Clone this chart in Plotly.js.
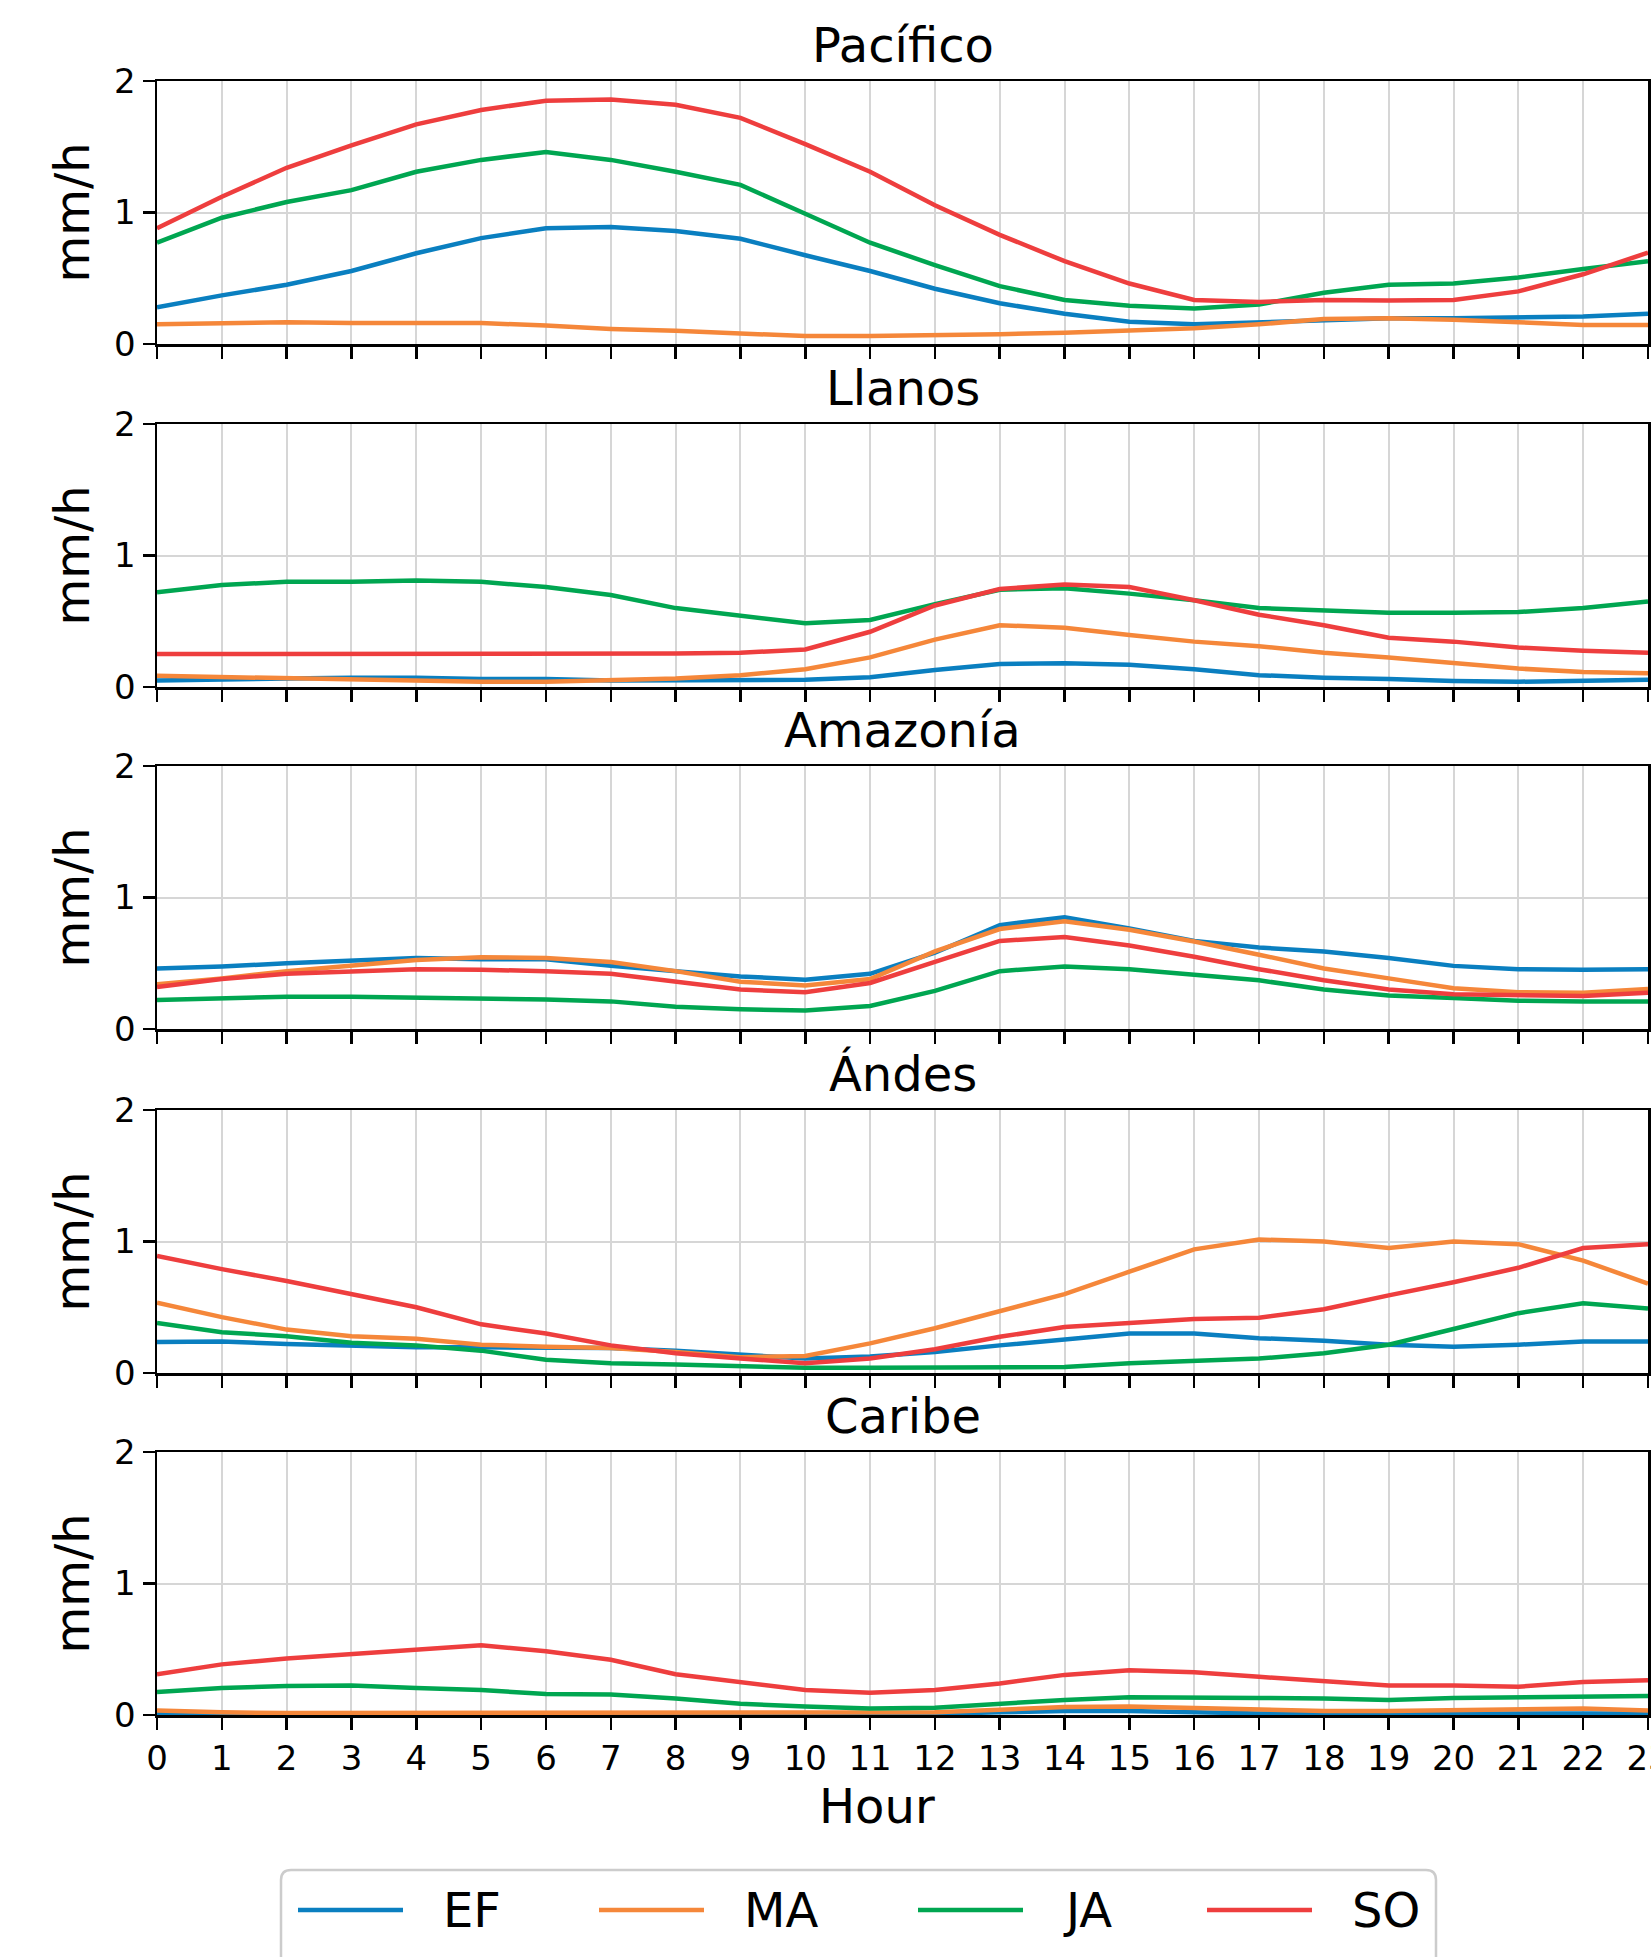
<!DOCTYPE html>
<html>
<head>
<meta charset="utf-8">
<script src="https://cdn.plot.ly/plotly-3.0.1.min.js"></script>
<style>html,body{margin:0;padding:0;background:#fff;}#chart{width:1651px;height:1957px;}</style>
</head>
<body>
<div id="chart"></div>
<script>
// ---- data ----
const hours = [0,1,2,3,4,5,6,7,8,9,10,11,12,13,14,15,16,17,18,19,20,21,22,23];
const regions = ["Pacífico","Llanos","Amazonía","Ándes","Caribe"];
const seasons = ["EF","MA","JA","SO"];
const yTicks = [0,1,2];

const pacificoEF = [0.28,0.37,0.45,0.555,0.69,0.805,0.88,0.89,0.86,0.80,0.675,0.555,0.42,0.31,0.23,0.17,0.15,0.165,0.185,0.195,0.195,0.20,0.21,0.23];
const pacificoMA = [0.15,0.155,0.165,0.16,0.16,0.16,0.14,0.115,0.10,0.08,0.06,0.06,0.065,0.075,0.085,0.10,0.12,0.15,0.19,0.195,0.185,0.165,0.145,0.145];
const pacificoJA = [0.77,0.96,1.08,1.17,1.31,1.40,1.46,1.40,1.31,1.21,0.99,0.77,0.60,0.44,0.335,0.29,0.27,0.30,0.39,0.45,0.46,0.505,0.57,0.63];
const pacificoSO = [0.88,1.12,1.34,1.51,1.67,1.78,1.85,1.86,1.82,1.72,1.52,1.31,1.055,0.83,0.63,0.46,0.335,0.32,0.335,0.33,0.335,0.40,0.53,0.695];

const llanosEF = [0.05,0.06,0.065,0.07,0.07,0.06,0.06,0.05,0.05,0.05,0.055,0.075,0.13,0.175,0.18,0.17,0.135,0.09,0.07,0.06,0.045,0.04,0.045,0.055];
const llanosMA = [0.085,0.075,0.065,0.055,0.045,0.04,0.04,0.05,0.065,0.09,0.135,0.225,0.36,0.47,0.45,0.395,0.345,0.31,0.26,0.225,0.185,0.14,0.115,0.105];
const llanosJA = [0.72,0.775,0.80,0.80,0.81,0.80,0.76,0.70,0.60,0.54,0.485,0.51,0.63,0.74,0.75,0.71,0.66,0.60,0.58,0.565,0.565,0.57,0.60,0.65];
const llanosSO = [0.25,0.25,0.25,0.25,0.25,0.25,0.25,0.25,0.255,0.26,0.285,0.42,0.62,0.745,0.78,0.76,0.66,0.55,0.47,0.375,0.345,0.30,0.275,0.26];

const amazoniaEF = [0.46,0.475,0.50,0.52,0.54,0.53,0.53,0.48,0.44,0.40,0.375,0.42,0.58,0.79,0.85,0.765,0.67,0.62,0.59,0.54,0.48,0.455,0.45,0.455];
const amazoniaMA = [0.34,0.385,0.44,0.48,0.525,0.545,0.54,0.51,0.44,0.36,0.33,0.38,0.59,0.76,0.82,0.755,0.665,0.565,0.46,0.385,0.31,0.28,0.275,0.305];
const amazoniaJA = [0.22,0.235,0.245,0.245,0.24,0.235,0.225,0.21,0.17,0.15,0.14,0.175,0.29,0.44,0.475,0.455,0.41,0.37,0.30,0.255,0.235,0.215,0.21,0.21];
const amazoniaSO = [0.32,0.38,0.42,0.44,0.455,0.45,0.44,0.42,0.36,0.30,0.28,0.35,0.51,0.67,0.70,0.635,0.55,0.455,0.37,0.30,0.265,0.255,0.25,0.275];

const andesEF = [0.235,0.24,0.22,0.21,0.195,0.195,0.195,0.19,0.17,0.14,0.11,0.125,0.16,0.21,0.255,0.30,0.30,0.265,0.245,0.215,0.20,0.215,0.24,0.24];
const andesMA = [0.535,0.425,0.33,0.28,0.26,0.215,0.20,0.19,0.16,0.12,0.13,0.225,0.34,0.47,0.60,0.77,0.94,1.015,1.00,0.95,1.00,0.98,0.855,0.68];
const andesJA = [0.38,0.31,0.28,0.23,0.21,0.17,0.10,0.075,0.065,0.05,0.04,0.04,0.04,0.04,0.045,0.075,0.09,0.11,0.15,0.215,0.335,0.455,0.53,0.49];
const andesSO = [0.89,0.79,0.70,0.60,0.50,0.37,0.30,0.21,0.15,0.11,0.075,0.11,0.18,0.275,0.35,0.38,0.41,0.42,0.485,0.59,0.69,0.80,0.95,0.98];

const caribeEF = [0.01,0.01,0.01,0.01,0.01,0.01,0.01,0.01,0.01,0.01,0.01,0.01,0.01,0.02,0.03,0.03,0.02,0.012,0.01,0.01,0.01,0.015,0.015,0.012];
const caribeMA = [0.035,0.02,0.015,0.015,0.015,0.015,0.015,0.015,0.015,0.015,0.015,0.015,0.02,0.04,0.06,0.065,0.055,0.04,0.03,0.03,0.035,0.045,0.05,0.035];
const caribeJA = [0.175,0.205,0.22,0.225,0.205,0.19,0.16,0.155,0.125,0.085,0.065,0.05,0.055,0.085,0.115,0.135,0.135,0.13,0.125,0.115,0.13,0.135,0.14,0.145];
const caribeSO = [0.31,0.385,0.43,0.465,0.495,0.53,0.485,0.42,0.31,0.25,0.19,0.17,0.19,0.24,0.305,0.34,0.325,0.29,0.26,0.225,0.225,0.215,0.25,0.265];

const regionSeries = [
  [pacificoEF, pacificoMA, pacificoJA, pacificoSO],
  [llanosEF, llanosMA, llanosJA, llanosSO],
  [amazoniaEF, amazoniaMA, amazoniaJA, amazoniaSO],
  [andesEF, andesMA, andesJA, andesSO],
  [caribeEF, caribeMA, caribeJA, caribeSO]
];

// ---- style ----
const colors = ["#0a7fc0","#f5873a","#00a651","#ee3e3e"];
const W = 1651, H = 1957;
const FONT = "DejaVu Sans, sans-serif";
const fx = p => p / W;
const fy = p => 1 - p / H;
const plotLeft = 157, plotRight = 1648;
const panelTops = [81, 424, 766, 1110, 1452];
const panelH = 263;

const traces = [];
regionSeries.forEach((series, r) => {
  series.forEach((vals, s) => {
    traces.push({
      x: hours, y: vals, type: "scatter", mode: "lines",
      name: seasons[s], showlegend: false,
      xaxis: r === 0 ? "x" : "x" + (r + 1),
      yaxis: r === 0 ? "y" : "y" + (r + 1),
      line: {color: colors[s], width: 4.5},
      hoverinfo: "skip"
    });
  });
});

const layout = {
  width: W, height: H,
  margin: {l: 0, r: 0, t: 0, b: 0},
  paper_bgcolor: "#fff", plot_bgcolor: "#fff",
  font: {family: FONT, color: "#000", size: 34},
  showlegend: false,
  annotations: [], shapes: []
};

regions.forEach((name, r) => {
  const xk = r === 0 ? "xaxis" : "xaxis" + (r + 1);
  const yk = r === 0 ? "yaxis" : "yaxis" + (r + 1);
  const top = panelTops[r], bot = top + panelH;
  layout[xk] = {
    domain: [fx(plotLeft), fx(plotRight)],
    anchor: r === 0 ? "y" : "y" + (r + 1),
    range: [0, 23], tickvals: hours, ticktext: hours.map(String),
    showticklabels: r === regions.length - 1,
    ticklabeloverflow: "allow",
    ticks: "outside", ticklen: 12, tickwidth: 2.5, tickcolor: "#000",
    showline: true, linecolor: "#000", linewidth: 2.5, mirror: true,
    showgrid: true, gridcolor: "#d6d6d6", gridwidth: 2, zeroline: false,
    tickfont: {size: 34, family: FONT, color: "#000"},
    fixedrange: true
  };
  layout[yk] = {
    domain: [fy(bot), fy(top)],
    anchor: r === 0 ? "x" : "x" + (r + 1),
    range: [0, 2], tickvals: yTicks, ticktext: yTicks.map(String),
    ticks: "outside", ticklen: 12, tickwidth: 2.5, tickcolor: "#000",
    showline: true, linecolor: "#000", linewidth: 2.5, mirror: true,
    showgrid: true, gridcolor: "#d6d6d6", gridwidth: 2, zeroline: false,
    tickfont: {size: 34, family: FONT, color: "#000"},
    fixedrange: true
  };
  layout.annotations.push({
    text: name, xref: "paper", yref: "paper",
    x: fx((plotLeft + plotRight) / 2), y: fy(top - 36),
    xanchor: "center", yanchor: "middle", showarrow: false,
    font: {size: 48, family: FONT, color: "#000"}
  });
  layout.annotations.push({
    text: "mm/h", xref: "paper", yref: "paper",
    x: fx(71), y: fy(top + panelH / 2), textangle: -90,
    xanchor: "center", yanchor: "middle", showarrow: false,
    font: {size: 48, family: FONT, color: "#000"}
  });
});

layout.annotations.push({
  text: "Hour", xref: "paper", yref: "paper",
  x: fx(877), y: fy(1806), xanchor: "center", yanchor: "middle",
  showarrow: false, font: {size: 48, family: FONT, color: "#000"}
});

// ---- custom legend ----
const lgL = 281, lgR = 1436, lgT = 1870, lgB = 1990, rad = 10;
const pth = (x, y) => fx(x) + "," + fy(y);
layout.shapes.push({
  type: "path", xref: "paper", yref: "paper",
  path: "M" + pth(lgL + rad, lgT) + " L" + pth(lgR - rad, lgT) +
        " Q" + pth(lgR, lgT) + " " + pth(lgR, lgT + rad) +
        " L" + pth(lgR, lgB) + " L" + pth(lgL, lgB) +
        " L" + pth(lgL, lgT + rad) + " Q" + pth(lgL, lgT) + " " + pth(lgL + rad, lgT) + " Z",
  line: {color: "#cccccc", width: 2.5}, fillcolor: "rgba(255,255,255,0.8)"
});
const legLineStart = [298, 599, 918, 1207];
const legY = 1910;
seasons.forEach((s, i) => {
  layout.shapes.push({
    type: "line", xref: "paper", yref: "paper",
    x0: fx(legLineStart[i]), x1: fx(legLineStart[i] + 105),
    y0: fy(legY), y1: fy(legY),
    line: {color: colors[i], width: 4.5}
  });
  layout.annotations.push({
    text: s, xref: "paper", yref: "paper",
    x: fx(legLineStart[i] + 143), y: fy(legY),
    xanchor: "left", yanchor: "middle", showarrow: false,
    font: {size: 48, family: FONT, color: "#000"}
  });
});

Plotly.newPlot("chart", traces, layout, {staticPlot: true, displayModeBar: false});
</script>
</body>
</html>
